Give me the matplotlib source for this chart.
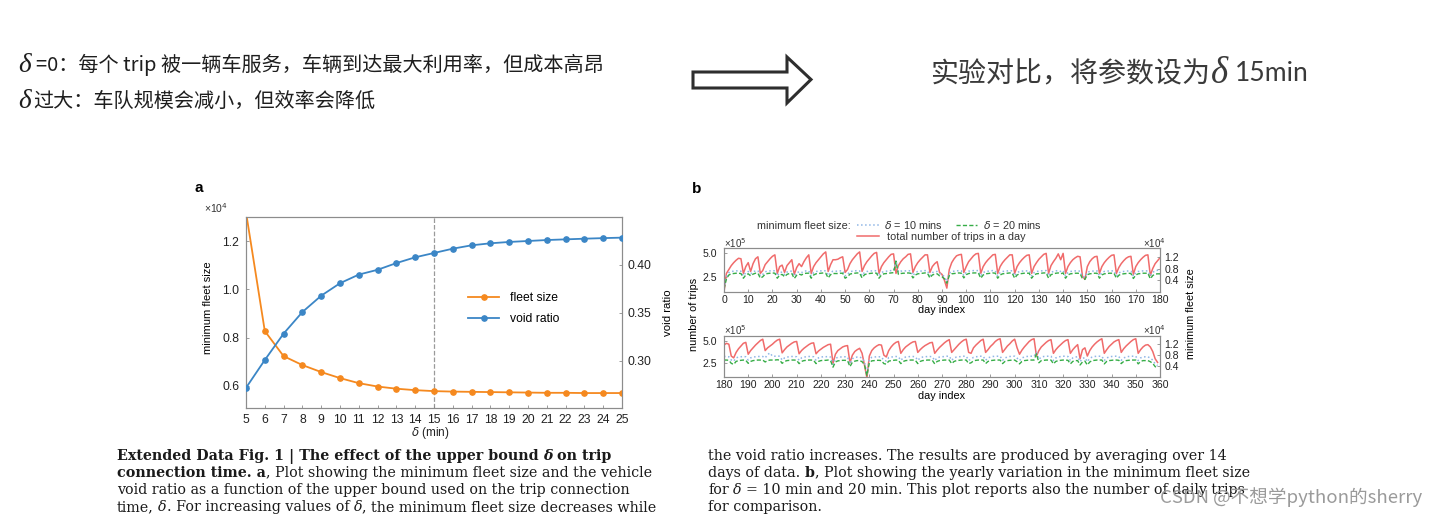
import numpy as np
import matplotlib
matplotlib.use('Agg')
import matplotlib.pyplot as plt
from matplotlib.patches import Polygon
from matplotlib.ticker import FormatStrFormatter

# ---------------- data ----------------
delta_min = [5, 6, 7, 8, 9, 10, 11, 12, 13, 14, 15, 16, 17, 18, 19, 20, 21, 22, 23, 24, 25]
fleet_size_1e4 = [1.320, 0.827, 0.723, 0.686, 0.657, 0.632, 0.611, 0.597, 0.588, 0.582, 0.578,
                  0.576, 0.575, 0.574, 0.573, 0.572, 0.571, 0.571, 0.570, 0.570, 0.570]
void_ratio = [0.272, 0.301, 0.3285, 0.351, 0.368, 0.381, 0.390, 0.395, 0.402, 0.408, 0.4125,
              0.417, 0.4205, 0.4226, 0.424, 0.425, 0.426, 0.4267, 0.4274, 0.428, 0.4285]
chosen_delta = 15
a_yticks = [0.6, 0.8, 1.0, 1.2]
a_y2ticks = [0.30, 0.35, 0.40]

# daily number of trips (x 10^5), day index 0..359
trips_1e5 = [
    1.00,
    2.90, 3.30, 3.70, 4.00, 4.25, 4.45, 4.40,
    2.90, 3.60, 4.00, 3.10, 3.90, 4.40, 4.60,
    2.90, 3.20, 3.80, 4.10, 4.40, 4.65, 4.80,
    2.90, 3.60, 3.75, 3.00, 3.70, 4.00, 4.30,
    2.80, 3.50, 3.90, 3.60, 4.10, 4.50, 4.80,
    2.90, 3.60, 4.00, 4.30, 4.60, 4.90, 5.10,
    3.10, 3.80, 4.30, 4.30, 4.35, 4.50, 4.60,
    3.00, 3.30, 3.90, 4.30, 4.60, 4.90, 5.10,
    3.10, 3.70, 4.10, 4.40, 4.70, 4.95, 5.05,
    2.90, 3.60, 4.00, 4.30, 4.60, 4.85, 4.90,
    2.90, 3.70, 4.10, 4.40, 4.60, 4.85, 4.90,
    3.00, 3.60, 4.00, 4.30, 4.55, 4.80, 4.80,
    3.00, 3.60, 3.90, 4.10, 3.00, 2.80, 2.20,
    1.40, 3.30, 4.00, 4.40, 4.70, 4.80, 4.85,
    3.00, 3.60, 4.10, 4.40, 4.70, 4.90, 4.95,
    2.90, 3.60, 4.00, 4.30, 4.55, 4.80, 4.85,
    2.90, 3.60, 4.00, 4.30, 4.55, 4.80, 4.80,
    2.90, 3.60, 4.00, 4.30, 4.55, 4.75, 4.80,
    2.90, 3.60, 4.00, 4.35, 4.60, 4.85, 4.95,
    2.90, 3.70, 4.10, 4.45, 4.90, 4.30, 4.95,
    2.90, 3.60, 4.00, 4.30, 4.50, 4.65, 4.60,
    2.60, 2.30, 3.60, 4.10, 4.40, 4.60, 4.65,
    2.90, 3.60, 4.00, 4.30, 4.55, 4.75, 4.80,
    2.90, 3.50, 3.90, 4.20, 4.45, 4.60, 4.65,
    2.80, 3.60, 4.00, 4.30, 4.55, 4.75, 4.80,
    2.70, 3.40, 3.90, 4.20, 4.50, 4.70, 4.60,
    3.30, 3.10, 3.70, 4.10, 4.40, 4.70, 4.80,
    3.50, 3.90, 4.20, 4.50, 4.75, 5.00, 5.15,
    3.90, 4.20, 4.40, 4.60, 4.85, 5.05, 5.15,
    3.65, 4.00, 4.30, 4.50, 4.70, 4.85, 4.90,
    3.55, 3.90, 4.15, 4.35, 4.55, 4.70, 4.75,
    3.55, 3.85, 4.05, 4.25, 4.40, 4.55, 4.60,
    2.50, 3.50, 3.90, 4.10, 4.30, 4.40, 4.45,
    2.55, 3.40, 3.80, 4.00, 4.15, 3.60, 2.30,
    0.90, 3.30, 3.90, 4.20, 4.40, 4.55, 4.50,
    3.40, 3.20, 3.90, 4.30, 4.60, 4.80, 4.90,
    3.60, 4.00, 4.30, 4.50, 4.70, 4.85, 4.90,
    3.70, 4.00, 4.25, 4.45, 4.60, 4.75, 4.80,
    3.60, 3.95, 4.25, 4.50, 4.75, 4.95, 5.10,
    3.70, 4.00, 4.30, 4.60, 4.85, 5.05, 5.15,
    3.70, 3.60, 4.20, 4.50, 4.75, 5.00, 5.15,
    3.70, 4.00, 4.35, 4.60, 4.90, 5.10, 5.20,
    3.70, 4.05, 4.40, 4.65, 4.95, 5.15, 4.20,
    3.50, 3.95, 4.30, 4.60, 4.90, 5.10, 5.20,
    3.30, 3.90, 4.30, 4.55, 4.80, 5.00, 5.10,
    3.60, 4.00, 4.30, 4.55, 4.80, 5.00, 5.10,
    3.60, 4.00, 4.30, 4.55, 3.00, 4.00, 4.20,
    3.30, 3.90, 4.30, 4.60, 4.85, 5.05, 5.20,
    3.60, 4.00, 4.35, 4.60, 4.85, 5.00, 5.10,
    3.70, 4.10, 4.40, 4.65, 4.90, 5.10, 5.20,
    3.60, 4.00, 4.30, 4.50, 4.55, 4.30, 3.80,
    3.00, 2.60,
]

# minimum fleet size (x 10^4), delta = 10 mins
fleet_d10_1e4 = [
    0.12,
    0.52, 0.66, 0.70, 0.71, 0.72, 0.72, 0.71,
    0.55, 0.66, 0.70, 0.62, 0.69, 0.72, 0.72,
    0.55, 0.60, 0.69, 0.71, 0.72, 0.73, 0.72,
    0.55, 0.66, 0.68, 0.59, 0.68, 0.71, 0.71,
    0.54, 0.65, 0.69, 0.66, 0.71, 0.72, 0.72,
    0.55, 0.66, 0.70, 0.71, 0.72, 0.73, 0.72,
    0.56, 0.67, 0.71, 0.71, 0.71, 0.72, 0.72,
    0.55, 0.60, 0.69, 0.71, 0.72, 0.73, 0.72,
    0.56, 0.67, 0.70, 0.71, 0.72, 0.73, 0.72,
    0.55, 0.66, 0.70, 0.71, 0.72, 0.73, 0.74,
    1.08, 0.68, 0.71, 0.72, 0.72, 0.73, 0.72,
    0.56, 0.66, 0.70, 0.71, 0.72, 0.73, 0.72,
    0.56, 0.66, 0.69, 0.70, 0.63, 0.60, 0.52,
    0.36, 0.64, 0.70, 0.71, 0.72, 0.73, 0.72,
    0.56, 0.67, 0.71, 0.72, 0.73, 0.73, 0.73,
    0.55, 0.66, 0.70, 0.71, 0.72, 0.73, 0.72,
    0.55, 0.66, 0.70, 0.71, 0.72, 0.73, 0.72,
    0.55, 0.66, 0.70, 0.71, 0.72, 0.72, 0.72,
    0.55, 0.66, 0.70, 0.71, 0.72, 0.73, 0.73,
    0.55, 0.67, 0.70, 0.72, 0.73, 0.70, 0.73,
    0.55, 0.66, 0.70, 0.71, 0.72, 0.72, 0.71,
    0.53, 0.51, 0.67, 0.70, 0.71, 0.72, 0.72,
    0.55, 0.66, 0.70, 0.71, 0.72, 0.72, 0.72,
    0.55, 0.65, 0.69, 0.70, 0.71, 0.72, 0.71,
    0.54, 0.66, 0.70, 0.71, 0.72, 0.72, 0.72,
    0.55, 0.67, 0.72, 0.74, 0.75, 0.75, 0.74,
    0.62, 0.58, 0.70, 0.73, 0.74, 0.75, 0.74,
    0.62, 0.70, 0.73, 0.74, 0.75, 0.75, 0.75,
    0.70, 0.82, 0.88, 0.76, 0.76, 0.77, 0.76,
    0.62, 0.70, 0.73, 0.74, 0.75, 0.75, 0.74,
    0.61, 0.70, 0.73, 0.74, 0.75, 0.75, 0.74,
    0.61, 0.70, 0.73, 0.74, 0.74, 0.75, 0.73,
    0.46, 0.68, 0.72, 0.73, 0.74, 0.74, 0.73,
    0.48, 0.67, 0.71, 0.73, 0.73, 0.69, 0.56,
    0.10, 0.64, 0.72, 0.73, 0.74, 0.74, 0.73,
    0.61, 0.59, 0.71, 0.73, 0.74, 0.75, 0.74,
    0.61, 0.70, 0.73, 0.74, 0.75, 0.75, 0.74,
    0.61, 0.70, 0.73, 0.74, 0.75, 0.75, 0.74,
    0.60, 0.70, 0.73, 0.74, 0.75, 0.76, 0.76,
    0.61, 0.70, 0.73, 0.74, 0.75, 0.76, 0.76,
    0.61, 0.65, 0.72, 0.74, 0.75, 0.76, 0.76,
    0.61, 0.70, 0.73, 0.75, 0.76, 0.76, 0.76,
    0.61, 0.70, 0.73, 0.75, 0.76, 0.76, 0.69,
    0.60, 0.70, 0.73, 0.75, 0.76, 0.76, 0.76,
    0.90, 0.65, 0.73, 0.75, 0.76, 0.76, 0.76,
    0.60, 0.70, 0.73, 0.75, 0.76, 0.76, 0.75,
    0.60, 0.70, 0.73, 0.74, 0.56, 0.68, 0.71,
    0.56, 0.68, 0.73, 0.75, 0.76, 0.76, 0.76,
    0.60, 0.70, 0.73, 0.75, 0.76, 0.76, 0.75,
    0.61, 0.70, 0.73, 0.75, 0.76, 0.76, 0.76,
    0.60, 0.70, 0.73, 0.74, 0.74, 0.69, 0.62,
    0.48, 0.42,
]

# minimum fleet size (x 10^4), delta = 20 mins
fleet_d20_1e4 = [
    0.10,
    0.45, 0.58, 0.62, 0.63, 0.64, 0.64, 0.63,
    0.47, 0.58, 0.62, 0.55, 0.61, 0.64, 0.64,
    0.47, 0.52, 0.61, 0.63, 0.64, 0.65, 0.64,
    0.47, 0.58, 0.60, 0.52, 0.60, 0.63, 0.63,
    0.46, 0.57, 0.61, 0.58, 0.63, 0.64, 0.64,
    0.47, 0.58, 0.62, 0.63, 0.64, 0.65, 0.64,
    0.48, 0.59, 0.63, 0.63, 0.63, 0.64, 0.64,
    0.47, 0.52, 0.61, 0.63, 0.64, 0.65, 0.64,
    0.48, 0.59, 0.62, 0.63, 0.64, 0.65, 0.64,
    0.47, 0.58, 0.62, 0.63, 0.64, 0.65, 0.66,
    1.05, 0.60, 0.63, 0.64, 0.64, 0.65, 0.64,
    0.48, 0.58, 0.62, 0.63, 0.64, 0.65, 0.64,
    0.48, 0.58, 0.61, 0.62, 0.55, 0.52, 0.45,
    0.30, 0.56, 0.62, 0.63, 0.64, 0.65, 0.64,
    0.48, 0.59, 0.63, 0.64, 0.65, 0.65, 0.65,
    0.47, 0.58, 0.62, 0.63, 0.64, 0.65, 0.64,
    0.47, 0.58, 0.62, 0.63, 0.64, 0.65, 0.64,
    0.47, 0.58, 0.62, 0.63, 0.64, 0.64, 0.64,
    0.47, 0.58, 0.62, 0.63, 0.64, 0.65, 0.65,
    0.47, 0.59, 0.62, 0.64, 0.65, 0.62, 0.65,
    0.47, 0.58, 0.62, 0.63, 0.64, 0.64, 0.63,
    0.45, 0.43, 0.59, 0.62, 0.63, 0.64, 0.64,
    0.47, 0.58, 0.62, 0.63, 0.64, 0.64, 0.64,
    0.47, 0.57, 0.61, 0.62, 0.63, 0.64, 0.63,
    0.46, 0.58, 0.62, 0.63, 0.64, 0.64, 0.64,
    0.45, 0.56, 0.61, 0.62, 0.62, 0.62, 0.61,
    0.50, 0.46, 0.57, 0.60, 0.61, 0.62, 0.61,
    0.50, 0.57, 0.60, 0.61, 0.62, 0.62, 0.62,
    0.55, 0.60, 0.62, 0.62, 0.62, 0.63, 0.62,
    0.50, 0.57, 0.60, 0.61, 0.62, 0.62, 0.61,
    0.49, 0.57, 0.60, 0.61, 0.62, 0.62, 0.61,
    0.49, 0.57, 0.60, 0.61, 0.61, 0.62, 0.60,
    0.36, 0.55, 0.59, 0.60, 0.61, 0.61, 0.60,
    0.38, 0.54, 0.58, 0.60, 0.60, 0.56, 0.45,
    0.05, 0.52, 0.59, 0.60, 0.61, 0.61, 0.60,
    0.49, 0.47, 0.58, 0.60, 0.61, 0.62, 0.61,
    0.49, 0.57, 0.60, 0.61, 0.62, 0.62, 0.61,
    0.49, 0.57, 0.60, 0.61, 0.62, 0.62, 0.61,
    0.48, 0.57, 0.60, 0.61, 0.62, 0.62, 0.62,
    0.49, 0.57, 0.60, 0.61, 0.62, 0.62, 0.62,
    0.49, 0.52, 0.59, 0.61, 0.62, 0.62, 0.62,
    0.49, 0.57, 0.60, 0.61, 0.62, 0.62, 0.62,
    0.49, 0.57, 0.60, 0.61, 0.62, 0.62, 0.56,
    0.48, 0.57, 0.60, 0.61, 0.62, 0.62, 0.62,
    0.85, 0.52, 0.60, 0.61, 0.62, 0.62, 0.62,
    0.48, 0.57, 0.60, 0.61, 0.62, 0.62, 0.61,
    0.48, 0.57, 0.60, 0.60, 0.44, 0.55, 0.58,
    0.44, 0.55, 0.60, 0.61, 0.62, 0.62, 0.62,
    0.48, 0.57, 0.60, 0.61, 0.62, 0.62, 0.61,
    0.49, 0.57, 0.60, 0.61, 0.62, 0.62, 0.62,
    0.48, 0.57, 0.60, 0.60, 0.60, 0.56, 0.50,
    0.38, 0.33,
]

b_split_day = 180
b_top_xticks = list(range(0, 181, 10))
b_bot_xticks = list(range(180, 361, 10))
b_yticks = [2.5, 5.0]
b_y2ticks = [0.4, 0.8, 1.2]

# ---------------- figure ----------------
W, H = 1438, 520
fig = plt.figure(figsize=(W / 100, H / 100), dpi=100)
fig.patch.set_facecolor('white')
renderer = fig.canvas.get_renderer()

CJK = ['Noto Sans CJK SC', 'DejaVu Sans']
SANS = ['Liberation Sans', 'DejaVu Sans']
SERIF = ['Liberation Serif', 'DejaVu Serif']
CAPSERIF = ['DejaVu Serif']
plt.rcParams['font.family'] = SANS


def fx(x):
    return x / W


def fy(y):
    return 1 - y / H


def axrect(l, t, r, b):
    return [l / W, 1 - b / H, (r - l) / W, (b - t) / H]


def draw_parts(x, y, parts, scale=1.0):
    cur = x
    arts = []
    for p in parts:
        kw = dict(p)
        s = kw.pop('s')
        gap = kw.pop('gap', 0.0)
        kw['fontsize'] = kw['fontsize'] * scale
        cur += gap * scale
        t = fig.text(fx(cur), fy(y), s, ha='left', va='center', **kw)
        cur = t.get_window_extent(renderer).x1
        arts.append(t)
    return arts, cur - x


def fit_scale(parts, target):
    arts, w = draw_parts(0, -200, parts)
    for a in arts:
        a.remove()
    return target / w


# ---------- top slide text ----------
C1 = '#1e1e1e'
line1 = [dict(s='δ', family=SERIF, style='italic', fontsize=19, color=C1),
         dict(s='=0：每个 trip 被一辆车服务，车辆到达最大利用率，但成本高昂', family=CJK, fontsize=14, color=C1, gap=5)]
line2 = [dict(s='δ', family=SERIF, style='italic', fontsize=19, color=C1),
         dict(s='过大：车队规模会减小，但效率会降低', family=CJK, fontsize=14, color=C1, gap=3)]
sc = fit_scale(line1, 587)
draw_parts(18, 65, line1, sc)
draw_parts(18, 101, line2, sc)

C2 = '#3a3a3a'
rline = [dict(s='实验对比，将参数设为', family=CJK, fontsize=19, color=C2),
         dict(s='δ', family=SERIF, style='italic', fontsize=25, color=C2, gap=1),
         dict(s='15min', family=['Lato', 'DejaVu Sans'], fontsize=18, color=C2, gap=6)]
sc2 = fit_scale(rline, 378)
draw_parts(930, 74, rline, sc2)

# hollow arrow
arrow_pts = [(693, 72), (787, 72), (787, 57), (811, 79.5), (787, 103), (787, 88), (693, 88)]
fig.add_artist(Polygon([(fx(a), fy(b)) for a, b in arrow_pts], closed=True, transform=fig.transFigure,
                       facecolor='white', edgecolor='#2e2e2e', lw=2.2, joinstyle='miter'))

# ---------- styling helper ----------
SPINE = '#8c8c8c'


def style(ax, size, pad):
    for s in ax.spines.values():
        s.set_color(SPINE)
        s.set_linewidth(0.8)
    ax.tick_params(which='both', direction='in', length=2, width=0.6, color=SPINE,
                   labelsize=size, labelcolor='#222222', pad=pad)


# ---------- panel a ----------
ORANGE = '#f5891f'
BLUE = '#3b86c6'
axA = fig.add_axes(axrect(246, 217, 622, 408))
axA.axvline(chosen_delta, color='#9a9a9a', ls='--', lw=0.9, zorder=1)
lf, = axA.plot(delta_min, fleet_size_1e4, color=ORANGE, lw=1.3, marker='o', ms=3.8, zorder=3)
axA.set_xlim(5, 25)
axA.set_ylim(0.508, 1.30)
axA.set_xticks(delta_min)
axA.set_yticks(a_yticks)
axA.yaxis.set_major_formatter(FormatStrFormatter('%.1f'))
style(axA, 8.7, 4)
axA.tick_params(axis='y', pad=5)

axA2 = axA.twinx()
lv, = axA2.plot(delta_min, void_ratio, color=BLUE, lw=1.3, marker='o', ms=3.8, zorder=3)
axA2.set_ylim(0.251, 0.45)
axA2.set_yticks(a_y2ticks)
axA2.yaxis.set_major_formatter(FormatStrFormatter('%.2f'))
style(axA2, 8.7, 4)

axA2.legend([lf, lv], ['fleet size', 'void ratio'], loc='upper left',
            bbox_to_anchor=(fx(468), fy(292)), bbox_transform=fig.transFigure,
            frameon=False, fontsize=8.7, handlelength=2.6, handletextpad=0.9,
            labelspacing=0.75, borderpad=0, borderaxespad=0)

fig.text(fx(199), fy(188), 'a', fontsize=11, weight='bold', ha='center', va='center')
fig.text(fx(204), fy(208), '×10$^4$', fontsize=7.5, ha='left', va='center', color='#333333')
fig.text(fx(208), fy(308), 'minimum fleet size', fontsize=8.0, rotation=90, ha='center', va='center')
fig.text(fx(430), fy(433), r'$\delta$ (min)', fontsize=8.5, ha='center', va='center', color='#222222')
fig.text(fx(668), fy(313), 'void ratio', fontsize=8.2, rotation=90, ha='center', va='center')

# ---------- panel b ----------
RED = '#f06b6b'
BLUE_L = '#8fb6e6'
GREEN = '#36ad47'
days_t = np.arange(len(trips_1e5))
days_10 = np.arange(len(fleet_d10_1e4))
days_20 = np.arange(len(fleet_d20_1e4))
trips = np.array(trips_1e5)
f10 = np.array(fleet_d10_1e4)
f20 = np.array(fleet_d20_1e4)

rects = [axrect(724, 248, 1160, 292), axrect(724, 336, 1160, 377)]
ranges = [(0, b_split_day, b_top_xticks), (b_split_day, 360, b_bot_xticks)]
lines_b = {}
for rect, (lo, hi, xt) in zip(rects, ranges):
    ax = fig.add_axes(rect)
    m = (days_t >= lo) & (days_t <= hi)
    lr, = ax.plot(days_t[m], trips[m], color=RED, lw=1.1, zorder=2)
    ax.set_xlim(lo, hi)
    ax.set_ylim(1.0, 5.5)
    ax.set_xticks(xt)
    ax.set_yticks(b_yticks)
    ax.yaxis.set_major_formatter(FormatStrFormatter('%.1f'))
    style(ax, 7.6, 2)
    ax.tick_params(axis='y', pad=5)
    ax2 = ax.twinx()
    m10 = (days_10 >= lo) & (days_10 <= hi)
    m20 = (days_20 >= lo) & (days_20 <= hi)
    lb, = ax2.plot(days_10[m10], f10[m10], color=BLUE_L, ls=':', lw=1.1)
    lg, = ax2.plot(days_20[m20], f20[m20], color=GREEN, ls='--', lw=1.0, dashes=(3, 1.6))
    ax2.set_ylim(0, 1.5)
    ax2.set_yticks(b_y2ticks)
    ax2.yaxis.set_major_formatter(FormatStrFormatter('%.1f'))
    style(ax2, 7.6, 3)
    lines_b = dict(red=lr, blue=lb, green=lg)

fig.text(fx(697), fy(189), 'b', fontsize=11, weight='bold', ha='center', va='center')
for yy in (243, 330):
    fig.text(fx(724), fy(yy), '×10$^5$', fontsize=7, ha='left', va='center', color='#333333')
    fig.text(fx(1143), fy(yy), '×10$^4$', fontsize=7, ha='left', va='center', color='#333333')
fig.text(fx(942), fy(310), 'day index', fontsize=7.8, ha='center', va='center')
fig.text(fx(942), fy(396), 'day index', fontsize=7.8, ha='center', va='center')
fig.text(fx(694), fy(314), 'number of trips', fontsize=7.8, rotation=90, ha='center', va='center')
fig.text(fx(1191), fy(314), 'minimum fleet size', fontsize=7.8, rotation=90, ha='center', va='center')

fig.text(fx(851), fy(226), 'minimum fleet size:', fontsize=7.8, ha='right', va='center', color='#333333')
fig.legend([lines_b['blue'], lines_b['green']], [r'$\delta$ = 10 mins', r'$\delta$ = 20 mins'],
           loc='upper left', bbox_to_anchor=(fx(857), fy(219)), ncol=2, frameon=False,
           fontsize=7.8, handlelength=2.0, handletextpad=0.5, columnspacing=1.2,
           borderpad=0, borderaxespad=0, labelcolor='#333333')
fig.legend([lines_b['red']], ['total number of trips in a day'],
           loc='upper left', bbox_to_anchor=(fx(857), fy(232)), frameon=False,
           fontsize=7.8, handlelength=2.0, handletextpad=0.8,
           borderpad=0, borderaxespad=0, labelcolor='#333333')

# ---------- captions ----------
CC = '#1a1a1a'
BS = 10.0
sp = 0.3 * BS * 100 / 72


def P(s, weight='normal', style='normal', gap=0.0):
    return dict(s=s, family=CAPSERIF, fontsize=BS, weight=weight, style=style, color=CC, gap=gap)


L1 = [P('Extended Data Fig. 1 | The effect of the upper bound', 'bold'),
      P('δ', 'bold', 'italic', sp), P('on trip', 'bold', gap=sp)]
L2 = [P('connection time. a', 'bold'), P(', Plot showing the minimum fleet size and the vehicle')]
L3 = [P('void ratio as a function of the upper bound used on the trip connection')]
L4 = [P('time,'), P('δ', style='italic', gap=sp), P('. For increasing values of'),
      P('δ', style='italic', gap=sp), P(', the minimum fleet size decreases while')]
R1 = [P('the void ratio increases. The results are produced by averaging over 14')]
R2 = [P('days of data.'), P('b', 'bold', gap=sp), P(', Plot showing the yearly variation in the minimum fleet size')]
R3 = [P('for'), P('δ', style='italic', gap=sp), P('= 10 min and 20 min. This plot reports also the number of daily trips', gap=sp)]
R4 = [P('for comparison.')]

csc = fit_scale(L2, 535)
for yy, parts in zip((456, 473, 490, 507), (L1, L2, L3, L4)):
    draw_parts(117, yy, parts, csc)
for yy, parts in zip((456, 473, 490, 507), (R1, R2, R3, R4)):
    draw_parts(708, yy, parts, csc)

wm = [dict(s='CSDN @不想学python的sherry', family=CJK, fontsize=13, color='#9a9a9a')]
wsc = fit_scale(wm, 262)
draw_parts(1160, 497, wm, wsc)

fig.savefig('out.png', dpi=100, facecolor='white')
